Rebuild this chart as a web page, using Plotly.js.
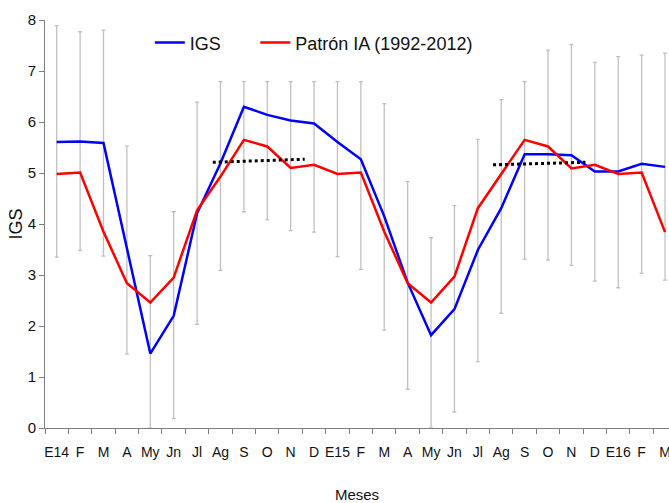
<!DOCTYPE html>
<html>
<head>
<meta charset="utf-8">
<script src="https://cdn.plot.ly/plotly-3.0.1.min.js"></script>
<style>
  body { margin: 0; background: #fff; }
  #plot { width: 669px; height: 503px; }
</style>
</head>
<body>
<div id="plot"></div>
<script>
// month labels, Jan 2014 .. Mar 2016
let months = ["E14", "F", "M", "A", "My", "Jn", "Jl", "Ag", "S", "O", "N", "D",
              "E15", "F", "M", "A", "My", "Jn", "Jl", "Ag", "S", "O", "N", "D",
              "E16", "F", "M"];

let igs = [5.61, 5.62, 5.59, 3.5, 1.46, 2.2, 4.21, 5.19, 6.3, 6.14, 6.03, 5.97,
           5.61, 5.27, 4.15, 2.85, 1.82, 2.33, 3.49, 4.31, 5.37, 5.37, 5.35, 5.03,
           5.03, 5.18, 5.12];

let patron = [4.98, 5.01, 3.85, 2.84, 2.46, 2.95, 4.27, 4.93, 5.65, 5.52, 5.1, 5.16,
              4.98, 5.01, 3.85, 2.84, 2.46, 2.97, 4.31, 4.98, 5.65, 5.52, 5.09, 5.16,
              4.98, 5.01, 3.84];

// top and bottom of the grey range bars
let barTop = [7.89, 7.77, 7.8, 5.53, 3.38, 4.24, 6.39, 6.79, 6.79, 6.79, 6.79, 6.79,
              6.79, 6.79, 6.36, 4.83, 3.73, 4.36, 5.66, 6.44, 6.79, 7.41, 7.52, 7.17,
              7.28, 7.31, 7.35];
let barLow = [3.35, 3.48, 3.37, 1.45, 0, 0.19, 2.03, 3.09, 4.24, 4.08, 3.87, 3.84,
              3.36, 3.11, 1.92, 0.76, 0, 0.31, 1.3, 2.25, 3.31, 3.29, 3.19, 2.88,
              2.75, 3.03, 2.9];

// dotted trend segments
let trend1X = [6.67, 10.6];
let trend1Y = [5.21, 5.27];
let trend2X = [18.65, 22.6];
let trend2Y = [5.16, 5.21];

let xs = months.map((m, i) => i);
let boundaries = months.map((m, i) => i - 0.5);

let font = "'Liberation Sans', Arial, sans-serif";
let legendFont = { size: 18, family: font, color: "#111" };

let traces = [
  {
    x: xs,
    y: igs,
    mode: "lines",
    name: "IGS",
    legend: "legend",
    line: { color: "#0000ff", width: 2.5 },
    error_y: {
      type: "data",
      symmetric: false,
      array: barTop.map((t, i) => t - igs[i]),
      arrayminus: barLow.map((b, i) => igs[i] - b),
      color: "#c0c0c0",
      thickness: 1.3,
      width: 2
    }
  },
  {
    x: xs,
    y: patron,
    mode: "lines",
    name: "Patrón IA (1992-2012)",
    legend: "legend2",
    line: { color: "#ff0000", width: 2.5 }
  },
  {
    x: trend1X,
    y: trend1Y,
    mode: "lines",
    showlegend: false,
    line: { color: "#000000", width: 3, dash: "dot" }
  },
  {
    x: trend2X,
    y: trend2Y,
    mode: "lines",
    showlegend: false,
    line: { color: "#000000", width: 3, dash: "dot" }
  }
];

let layout = {
  width: 669,
  height: 503,
  margin: { l: 45, r: 0, t: 20, b: 75 },
  paper_bgcolor: "#ffffff",
  plot_bgcolor: "#ffffff",
  font: { family: font, color: "#111", size: 15 },
  showlegend: true,
  legend: {
    x: 0.168,
    y: 0.944,
    xanchor: "left",
    yanchor: "middle",
    font: legendFont,
    bgcolor: "rgba(0,0,0,0)"
  },
  legend2: {
    x: 0.337,
    y: 0.944,
    xanchor: "left",
    yanchor: "middle",
    font: legendFont,
    bgcolor: "rgba(0,0,0,0)"
  },
  xaxis: {
    range: [-0.5, 26.17],
    tickmode: "array",
    tickvals: xs,
    ticktext: months,
    ticks: "outside",
    ticklen: 11,
    tickcolor: "rgba(0,0,0,0)",
    ticklabeloverflow: "allow",
    showgrid: false,
    zeroline: false,
    showline: true,
    linecolor: "#7f7f7f",
    linewidth: 1,
    tickfont: { size: 14 },
    minor: {
      tickmode: "array",
      tickvals: boundaries,
      ticks: "outside",
      ticklen: 5,
      tickcolor: "#7f7f7f",
      showgrid: false
    },
    title: { text: "Meses", font: { size: 15 }, standoff: 34 },
    automargin: false
  },
  yaxis: {
    range: [0, 8],
    dtick: 1,
    ticks: "outside",
    ticklen: 5,
    tickcolor: "#7f7f7f",
    showgrid: false,
    zeroline: false,
    showline: true,
    linecolor: "#7f7f7f",
    linewidth: 1,
    tickfont: { size: 15 },
    title: { text: "IGS", font: { size: 18 }, standoff: 0 },
    automargin: false
  }
};

Plotly.newPlot("plot", traces, layout, { displayModeBar: false, responsive: false });
</script>
</body>
</html>
